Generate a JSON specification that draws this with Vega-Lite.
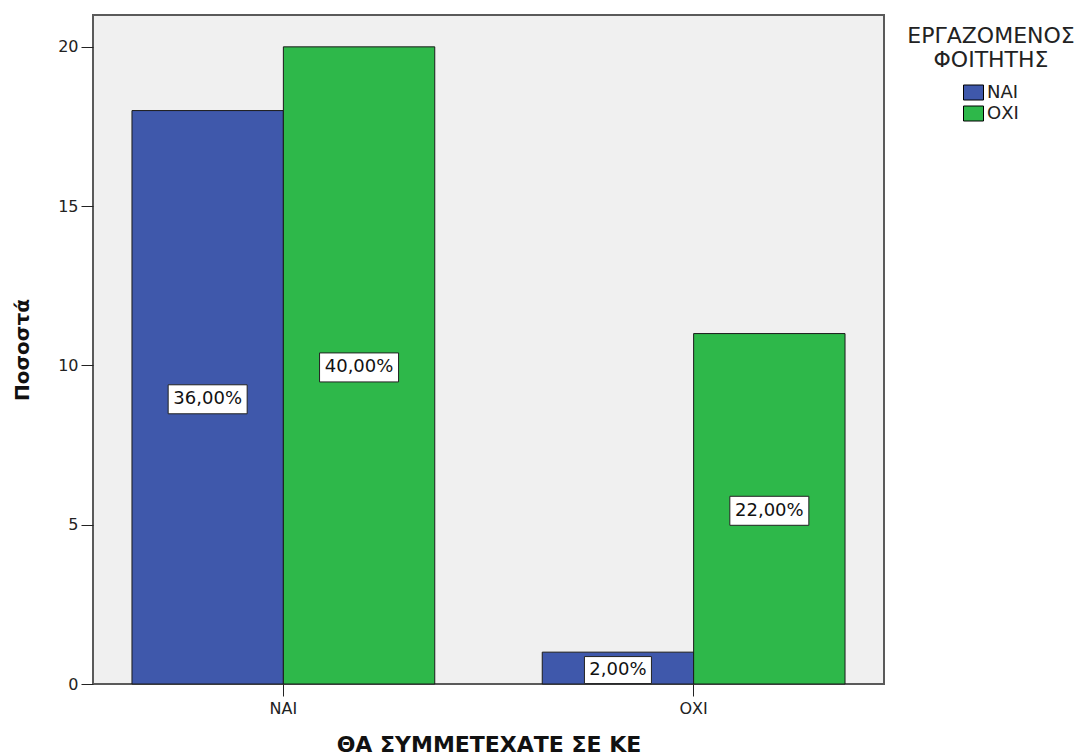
{
  "$schema": "https://vega.github.io/schema/vega-lite/v6.json",
  "width": 791,
  "height": 669,
  "autosize": "none",
  "padding": {"left": 93, "top": 15, "right": 204, "bottom": 72},
  "background": "white",
  "config": {
    "font": "DejaVu Sans",
    "view": {"fill": "#F0F0F0", "stroke": "#5a5a5a", "strokeWidth": 2},
    "axis": {"grid": false, "domain": false, "labelFont": "DejaVu Sans", "titleFont": "DejaVu Sans", "labelColor": "#222", "tickColor": "#222", "titleColor": "#111"}
  },
  "data": {
    "values": [
      {"answer": "ΝΑΙ", "student": "ΝΑΙ", "count": 18, "label": "36,00%"},
      {"answer": "ΝΑΙ", "student": "ΟΧΙ", "count": 20, "label": "40,00%"},
      {"answer": "ΟΧΙ", "student": "ΝΑΙ", "count": 1, "label": "2,00%"},
      {"answer": "ΟΧΙ", "student": "ΟΧΙ", "count": 11, "label": "22,00%"}
    ]
  },
  "encoding": {
    "x": {
      "field": "answer", "type": "nominal",
      "scale": {"domain": ["ΝΑΙ", "ΟΧΙ"], "paddingInner": 0.262, "paddingOuter": 0.095},
      "axis": {"title": "ΘΑ ΣΥΜΜΕΤΕΧΑΤΕ ΣΕ ΚΕ", "labelAngle": 0, "labelFontSize": 16, "tickSize": 12, "labelPadding": 4, "titleFontSize": 22, "titleFontWeight": "bold", "titlePadding": 18}
    },
    "xOffset": {"field": "student", "type": "nominal", "scale": {"domain": ["ΝΑΙ", "ΟΧΙ"], "paddingInner": 0, "paddingOuter": 0}}
  },
  "layer": [
    {
      "mark": {"type": "bar", "stroke": "#1a1a1a", "strokeWidth": 1},
      "encoding": {
        "y": {
          "field": "count", "type": "quantitative",
          "scale": {"domain": [0, 21], "nice": false},
          "axis": {"title": "Ποσοστά", "values": [0, 5, 10, 15, 20], "labelFontSize": 16, "tickSize": 12, "labelPadding": 3, "titleFontSize": 20, "titleFontWeight": "bold", "titlePadding": 25}
        },
        "color": {
          "field": "student", "type": "nominal",
          "scale": {"domain": ["ΝΑΙ", "ΟΧΙ"], "range": ["#3F58AB", "#2EB84A"]},
          "legend": {
            "title": ["ΕΡΓΑΖΟΜΕΝΟΣ", "ΦΟΙΤΗΤΗΣ"],
            "orient": "none", "legendX": 814, "legendY": 11,
            "titleFontSize": 22, "titleFontWeight": "normal", "titleAlign": "center", "titleAnchor": "middle",
            "titleLineHeight": 24, "titleColor": "#222", "titlePadding": 10,
            "labelFontSize": 18, "labelColor": "#222",
            "symbolType": "M-1,-0.75H1V0.75H-1Z", "symbolSize": 400, "symbolStrokeColor": "#000", "symbolStrokeWidth": 1, "symbolOpacity": 1,
            "symbolOffset": 0, "labelOffset": 3, "rowPadding": 1, "padding": 0
          }
        }
      }
    },
    {
      "mark": {"type": "point", "filled": true, "fill": "white", "stroke": "#222", "strokeWidth": 1, "opacity": 1, "size": 4, "yOffset": 2},
      "encoding": {
        "y": {"field": "count", "type": "quantitative", "scale": {"domain": [0, 42], "nice": false}, "axis": null},
        "shape": {"condition": {"test": "datum.count < 5", "value": "M-33.5,-13.5H33.5V13.5H-33.5Z"}, "value": "M-39.5,-14.5H39.5V14.5H-39.5Z"}
      }
    },
    {
      "mark": {"type": "text", "font": "DejaVu Sans", "fontSize": 18, "color": "#111", "baseline": "middle", "align": "center", "yOffset": 2},
      "encoding": {
        "y": {"field": "count", "type": "quantitative", "scale": {"domain": [0, 42], "nice": false}, "axis": null},
        "text": {"field": "label"}
      }
    }
  ],
  "resolve": {"scale": {"y": "independent"}}
}
